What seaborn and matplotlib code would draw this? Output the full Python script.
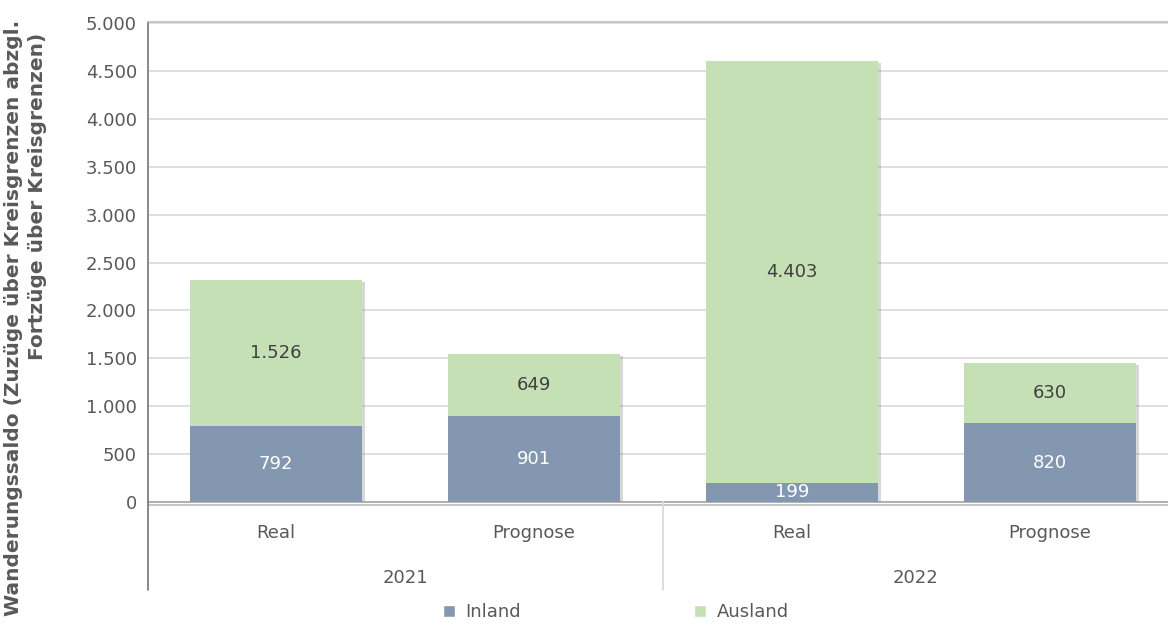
"""Wanderungssaldo Inland/Ausland, Real vs. Prognose 2021/2022."""

import matplotlib

matplotlib.use("Agg")
import matplotlib.pyplot as plt
import matplotlib.patheffects as pe
import matplotlib.transforms as mtransforms
from matplotlib.lines import Line2D
from matplotlib.patches import Patch
import pandas as pd
import seaborn as sns

jahre = ["2021", "2021", "2022", "2022"]
typen = ["Real", "Prognose", "Real", "Prognose"]
inland = [792, 901, 199, 820]
ausland = [1526, 649, 4403, 630]

FARBE_INLAND = "#8497B0"
FARBE_AUSLAND = "#C5E0B4"
TEXT = "#595959"
GRID = "#D9D9D9"
FS = 13


def fmt_de(v):
    return f"{v:,.0f}".replace(",", ".")


sns.set_theme(style="white")
plt.rcParams["font.family"] = ["DejaVu Sans"]

df = pd.DataFrame({
    "kat": [f"{j} {t}" for j, t in zip(jahre, typen)],
    "jahr": jahre,
    "typ": typen,
    "Inland": inland,
    "Ausland": ausland,
})
df["Gesamt"] = df["Inland"] + df["Ausland"]

fig = plt.figure(figsize=(11.68, 6.27), dpi=100)
ax = fig.add_axes([148 / 1168, 1 - 502 / 627, 1 - 148 / 1168, (502 - 23) / 627])

schatten = [pe.SimplePatchShadow(offset=(2, -1.5), alpha=0.3, shadow_rgbFace="#808080"), pe.Normal()]

sns.barplot(data=df, x="kat", y="Gesamt", color=FARBE_AUSLAND, saturation=1,
            width=0.667, ax=ax, zorder=3)
n_aus = len(ax.patches)
sns.barplot(data=df, x="kat", y="Inland", color=FARBE_INLAND, saturation=1,
            width=0.667, ax=ax, zorder=3)
for i, p in enumerate(ax.patches):
    p.set_linewidth(0)
    if i < n_aus:
        p.set_path_effects(schatten)

# Werte in die Segmente
for i, (inl, aus) in enumerate(zip(inland, ausland)):
    ax.text(i, inl / 2, fmt_de(inl), ha="center", va="center", color="white",
            fontsize=FS, zorder=5)
    ax.text(i, inl + aus / 2, fmt_de(aus), ha="center", va="center", color="#404040",
            fontsize=FS, zorder=5)

XL = (-0.496, 3.457)
ax.set_ylim(0, 5000)
ax.set_xlim(*XL)
ax.set_yticks(range(0, 5001, 500))
ax.set_yticklabels([fmt_de(v) for v in range(0, 5001, 500)], color=TEXT, fontsize=FS)
ax.tick_params(axis="y", length=0, pad=8)
ax.grid(axis="y", color=GRID, linewidth=1.2, zorder=0)
ax.set_xticks([])
ax.set_xlabel("")
ax.set_ylabel("")
for s in ["top", "right", "left"]:
    ax.spines[s].set_visible(False)
ax.spines["bottom"].set_color("#A6A6A6")
ax.spines["bottom"].set_linewidth(1.2)
ax.spines["bottom"].set_path_effects(
    [pe.SimpleLineShadow(offset=(0, -2), alpha=0.3), pe.Normal()])

# Kategorieachse mit zwei Ebenen
trans = mtransforms.blended_transform_factory(ax.transData, fig.transFigure)
for i, t in enumerate(typen):
    ax.text(i, 1 - 533 / 627, t, transform=trans, ha="center", va="center",
            color=TEXT, fontsize=FS)
grenzen = [XL[0], 1.5, XL[1]]
for k, j in enumerate(["2021", "2022"]):
    ax.text((grenzen[k] + grenzen[k + 1]) / 2, 1 - 578 / 627, j, transform=trans,
            ha="center", va="center", color=TEXT, fontsize=FS)
linien = [
    ([XL[0]] * 2, [1 - 590 / 627, 1 - 22 / 627], "#7F7F7F"),
    ([1.5, 1.5], [1 - 590 / 627, 1 - 502 / 627], "#D9D9D9"),
    ([XL[0], XL[1]], [1 - 22 / 627] * 2, "#BFBFBF"),
]
for xs, ys, c in linien:
    fig.add_artist(Line2D(xs, ys, transform=trans, color=c, linewidth=1.3))

# Achsentitel (zweizeilig, wie im Original abgeschnitten)
fig.text(14 / 1168, 1 - 20 / 627, "Wanderungssaldo (Zuzüge über Kreisgrenzen abzgl.",
         rotation=90, ha="center", va="top", fontsize=14.5, fontweight="bold", color=TEXT)
fig.text(38 / 1168, 1 - 33 / 627, "Fortzüge über Kreisgrenzen)",
         rotation=90, ha="center", va="top", fontsize=14.5, fontweight="bold", color=TEXT)

handles = [Patch(facecolor=FARBE_INLAND, label="Inland"),
           Patch(facecolor=FARBE_AUSLAND, label="Ausland")]
fig.legend(handles=handles, loc="center", bbox_to_anchor=(616 / 1168, 1 - 612 / 627),
           ncol=2, frameon=False, fontsize=FS, handlelength=0.65, handleheight=0.65,
           handletextpad=0.6, columnspacing=9.6, labelcolor=TEXT)

fig.savefig("out.png", dpi=100)
